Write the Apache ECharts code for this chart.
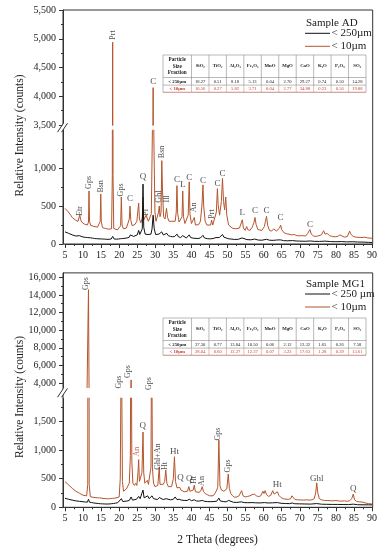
<!DOCTYPE html>
<html><head><meta charset="utf-8">
<script src="https://cdn.jsdelivr.net/npm/echarts@6/dist/echarts.min.js"></script>
<style>html,body{margin:0;padding:0;background:#fff}#c{width:388px;height:550px}</style>
</head><body><div id="c"></div>
<script>
// ---------- DATA ----------
const thetaLabels = [5,10,15,20,25,30,35,40,45,50,55,60,65,70,75,80,85,90];

// Sample AD, < 10 µm (red)
const AD_lt10 = [[5.0,470],[5.4,455],[5.8,430],[6.2,405],[6.6,380],[7.0,350],[7.4,330],[7.8,318],[8.2,305],[8.6,298],[8.9,320],[9.1,385],[9.3,330],[9.6,290],[10.0,275],[10.4,262],[10.8,255],[11.2,250],[11.5,290],[11.65,700],[11.8,300],[12.1,245],[12.5,238],[13.0,232],[13.5,228],[14.0,222],[14.5,225],[14.75,300],[14.9,660],[15.05,290],[15.4,215],[15.8,212],[16.2,205],[16.6,200],[17.0,196],[17.5,192],[17.9,200],[18.1,900],[18.2,4940],[18.3,900],[18.5,205],[19.0,190],[19.5,186],[20.0,188],[20.4,240],[20.6,620],[20.8,250],[21.2,200],[21.6,205],[22.0,210],[22.5,230],[22.8,330],[23.0,500],[23.2,320],[23.6,240],[24.0,250],[24.4,260],[24.9,300],[25.2,450],[25.4,540],[25.6,330],[26.0,280],[26.4,340],[26.6,620],[26.8,320],[27.2,300],[27.5,380],[27.8,330],[28.1,300],[28.5,310],[28.9,400],[29.2,1500],[29.4,4150],[29.6,1400],[29.9,420],[30.2,300],[30.6,290],[30.9,420],[31.1,500],[31.3,360],[31.6,420],[31.8,1100],[32.0,700],[32.3,360],[32.7,330],[33.1,470],[33.4,350],[33.8,300],[34.2,310],[34.6,300],[35.0,290],[35.5,300],[35.8,420],[36.0,770],[36.2,400],[36.6,290],[37.0,300],[37.4,360],[37.6,700],[37.8,360],[38.2,270],[38.7,280],[39.1,380],[39.4,820],[39.6,400],[40.0,270],[40.5,260],[40.8,350],[41.1,250],[41.6,245],[42.0,255],[42.5,300],[42.9,500],[43.2,780],[43.4,500],[43.8,300],[44.3,250],[44.8,240],[45.3,250],[45.6,315],[45.9,250],[46.4,260],[46.9,420],[47.2,730],[47.4,520],[47.8,380],[48.3,560],[48.6,865],[48.9,560],[49.2,450],[49.5,620],[49.8,380],[50.3,250],[50.8,230],[51.3,210],[51.8,230],[52.3,200],[52.8,195],[53.3,210],[53.8,230],[54.1,320],[54.4,210],[54.9,180],[55.3,230],[55.6,190],[56.2,180],[56.8,220],[57.3,280],[57.6,350],[57.9,260],[58.4,190],[58.9,175],[59.5,180],[60.2,230],[60.5,300],[60.8,365],[61.1,250],[61.6,180],[62.2,170],[62.8,200],[63.1,205],[63.5,170],[64.0,180],[64.4,210],[64.7,250],[65.0,190],[65.6,150],[66.3,135],[67.0,130],[67.8,120],[68.5,125],[69.2,110],[70.0,108],[70.8,110],[71.6,105],[72.2,140],[72.8,190],[73.2,130],[73.8,105],[74.5,100],[75.3,110],[76.0,120],[76.6,175],[77.0,130],[77.6,140],[78.2,110],[79.0,100],[79.8,95],[80.5,100],[81.1,120],[81.6,95],[82.4,90],[83.2,100],[83.8,170],[84.2,125],[84.8,100],[85.6,90],[86.4,88],[87.2,85],[88.0,90],[88.8,80],[89.5,78],[90.0,75]];

// Sample AD, < 250 µm (black)
const AD_lt250 = [[5.0,160],[5.5,150],[6.0,140],[6.5,128],[7.0,120],[7.5,112],[8.0,105],[8.5,100],[9.0,110],[9.4,98],[10.0,92],[10.6,88],[11.2,85],[11.6,110],[12.0,82],[12.6,78],[13.2,72],[13.8,70],[14.4,68],[14.9,85],[15.4,66],[16.0,64],[16.6,62],[17.2,62],[17.8,66],[18.2,100],[18.6,66],[19.2,64],[19.8,66],[20.4,70],[20.7,95],[21.0,72],[21.6,75],[22.2,80],[22.8,90],[23.1,120],[23.5,95],[24.0,100],[24.5,110],[25.0,120],[25.4,180],[25.7,125],[26.1,120],[26.4,200],[26.6,790],[26.8,220],[27.2,130],[27.6,150],[28.0,125],[28.4,115],[28.8,130],[29.1,200],[29.4,380],[29.7,200],[30.1,125],[30.6,110],[31.0,130],[31.3,120],[31.8,160],[32.2,120],[32.7,125],[33.2,140],[33.6,110],[34.2,100],[34.8,95],[35.4,100],[36.0,130],[36.4,95],[37.0,85],[37.6,110],[38.0,85],[38.6,80],[39.4,120],[39.8,85],[40.4,78],[41.0,75],[41.8,72],[42.5,80],[43.2,115],[43.6,80],[44.4,70],[45.2,68],[46.0,72],[46.8,85],[47.3,110],[47.7,85],[48.2,100],[48.6,125],[49.0,90],[49.6,80],[50.2,70],[51.0,65],[52.0,60],[53.0,62],[54.0,80],[54.5,60],[55.4,58],[56.5,55],[57.5,65],[58.5,52],[59.5,50],[60.8,62],[61.6,50],[62.6,48],[63.5,52],[64.6,55],[65.5,45],[66.5,42],[68.0,45],[69.0,40],[70.0,38],[71.5,36],[73.0,40],[74.0,35],[75.5,34],[77.0,38],[78.5,32],[80.0,30],[81.5,32],[83.0,28],[84.5,30],[86.0,26],[87.5,25],[89.0,22],[90.0,20]];

// Sample MG1, < 10 µm (red)
const MG1_lt10 = [[5.0,446],[5.5,420],[6.0,390],[6.5,360],[7.0,330],[7.5,305],[8.0,280],[8.5,262],[9.0,245],[9.5,228],[10.0,210],[10.5,198],[11.0,200],[11.3,400],[11.5,14600],[11.7,400],[12.0,185],[12.5,178],[13.0,172],[13.5,168],[14.0,165],[14.6,165],[15.2,158],[15.8,152],[16.4,150],[17.0,148],[17.6,152],[18.2,155],[18.8,160],[19.4,168],[20.0,180],[20.3,500],[20.6,3200],[20.9,450],[21.2,280],[21.6,300],[22.0,320],[22.4,350],[22.8,420],[23.1,900],[23.3,4350],[23.5,800],[23.8,420],[24.2,380],[24.6,420],[24.9,380],[25.2,600],[25.4,830],[25.6,450],[26.0,420],[26.3,600],[26.6,1310],[26.8,600],[27.1,420],[27.5,450],[27.8,470],[28.1,400],[28.5,420],[28.8,700],[29.0,3300],[29.2,700],[29.5,420],[29.9,360],[30.3,330],[30.7,380],[31.1,700],[31.3,400],[31.7,380],[32.2,400],[32.6,450],[32.9,650],[33.2,420],[33.6,360],[34.0,340],[34.5,360],[35.0,500],[35.3,880],[35.6,450],[36.0,340],[36.5,360],[36.8,345],[37.1,300],[37.6,290],[38.0,270],[38.5,300],[38.9,280],[39.3,360],[39.6,280],[40.1,260],[40.5,300],[40.8,385],[41.1,270],[41.6,250],[42.2,260],[42.7,300],[43.0,360],[43.3,280],[43.8,240],[44.4,220],[45.0,200],[45.5,185],[46.0,200],[46.6,250],[47.0,300],[47.3,350],[47.6,1170],[47.9,380],[48.3,300],[48.7,320],[49.0,280],[49.4,260],[49.8,320],[50.2,580],[50.5,330],[50.9,240],[51.4,200],[52.0,175],[52.6,180],[53.2,200],[53.9,290],[54.3,200],[54.9,180],[55.6,190],[56.2,200],[56.8,220],[57.4,230],[58.0,200],[58.6,185],[59.2,200],[59.8,280],[60.1,240],[60.4,290],[60.8,220],[61.4,190],[62.0,210],[62.5,290],[62.9,230],[63.4,220],[63.8,270],[64.2,210],[64.8,170],[65.5,150],[66.2,140],[66.9,140],[67.5,150],[67.8,200],[68.1,180],[68.6,140],[69.4,130],[70.2,128],[71.0,125],[71.8,130],[72.6,125],[73.4,130],[74.0,150],[74.4,250],[74.7,425],[75.0,250],[75.4,150],[76.0,130],[76.8,120],[77.6,118],[78.4,115],[79.2,112],[80.0,118],[80.8,110],[81.6,108],[82.4,112],[83.2,105],[83.8,115],[84.4,150],[84.8,230],[85.2,130],[85.8,100],[86.6,95],[87.4,90],[88.2,75],[89.0,65],[90.0,57]];

// Sample MG1, < 250 µm (black)
const MG1_lt250 = [[5.0,157],[5.5,150],[6.0,140],[6.5,132],[7.0,125],[7.5,118],[8.0,112],[8.5,108],[9.0,104],[9.5,100],[10.0,97],[10.6,92],[11.2,90],[11.5,140],[11.8,88],[12.4,82],[13.0,75],[13.6,70],[14.2,66],[14.8,62],[15.4,60],[16.0,58],[16.6,57],[17.2,58],[17.8,62],[18.4,66],[19.0,72],[19.6,80],[20.1,90],[20.6,150],[21.0,100],[21.6,105],[22.2,110],[22.8,120],[23.3,180],[23.7,125],[24.2,135],[24.8,140],[25.4,190],[25.8,150],[26.3,160],[26.6,300],[26.9,165],[27.4,160],[27.9,200],[28.3,150],[28.8,150],[29.1,200],[29.5,150],[30.0,140],[30.6,135],[31.1,170],[31.6,140],[32.2,135],[33.0,150],[33.5,130],[34.2,130],[35.0,140],[35.5,180],[36.0,135],[36.6,140],[37.2,125],[38.0,120],[38.8,118],[39.4,140],[40.0,115],[40.8,130],[41.4,110],[42.2,108],[43.0,120],[43.6,105],[44.4,100],[45.2,98],[46.0,100],[47.0,105],[47.6,160],[48.0,110],[48.8,100],[49.6,95],[50.3,120],[50.8,92],[51.6,88],[52.6,85],[53.8,95],[54.6,82],[55.6,80],[56.8,82],[57.8,78],[59.0,76],[60.2,82],[61.2,75],[62.4,78],[63.8,82],[64.8,70],[66.0,66],[67.2,64],[67.9,75],[68.6,62],[70.0,60],[71.4,58],[73.0,56],[74.7,65],[76.0,54],[77.5,52],[79.0,50],[80.5,50],[82.0,48],[83.5,47],[84.8,55],[86.0,45],[87.5,44],[89.0,43],[90.0,42]];

// peak labels: [2theta, counts, text, rotated(1/0), upper-segment(1/0)]
const AD_peaks = [[9.1,436,'Etr',1,0],[11.65,812,'Gps',1,0],[14.9,760,'Bsn',1,0],[18.2,5065,'Prt',1,1],[20.6,713,'Gps',1,0],[23.0,604,'C',0,0],[26.6,889,'Q',0,0],[27.4,416,'Pl',1,0],[29.4,4253,'C',0,1],[30.9,625,'Ghl',1,0],[31.8,1215,'Bsn',1,0],[33.1,594,'Ill',1,0],[36.0,845,'C',0,0],[37.6,789,'L',0,0],[39.4,881,'C',0,0],[40.8,482,'An',1,0],[43.2,832,'C',0,0],[45.6,396,'Prt',1,0],[47.2,802,'C',0,0],[48.6,925,'C',0,0],[54.1,419,'L',0,0],[57.6,436,'C',0,0],[60.8,436,'C',0,0],[64.7,347,'C',0,0],[72.8,260,'C',0,0]];
const MG1_peaks = [[10.85,15294,'Gps',1,1],[19.8,4114,'Gps',1,1],[22.4,5305,'Gps',1,1],[28.2,3943,'Gps',1,1],[24.9,969,'An',1,0],[26.5,1416,'Q',0,0],[30.8,882,'Ghl+An',1,0],[32.7,720,'Ht',1,0],[35.3,969,'Ht',0,0],[37.0,523,'Q',0,0],[39.4,493,'Q',0,0],[40.8,476,'Ht',1,0],[42.8,458,'An',1,0],[47.4,1277,'Gps',1,0],[50.1,720,'Gps',1,0],[63.8,389,'Ht',0,0],[74.7,505,'Ghl',0,0],[84.8,331,'Q',0,0]];

// y-axis tick values
const AD_upperTicks = [3500,4000,4500,5000,5500], AD_upperMinor = [3750,4250,4750,5250];
const AD_lowerTicks = [0,500,1000], AD_lowerMinor = [250,750,1250];
const MG1_upperTicks = [4000,6000,8000,10000,12000,14000,16000], MG1_upperMinor = [5000,7000,9000,11000,13000,15000];
const MG1_lowerTicks = [0,500,1000,1500], MG1_lowerMinor = [250,750,1250,1750];

// oxide tables
const oxides = ['SiO₂','TiO₂','Al₂O₃','Fe₂O₃','MnO','MgO','CaO','K₂O','P₂O₅','SO₃'];
const AD_ox250 = ['18.27','0.51','8.18','5.13','0.04','2.70','29.27','0.74','0.50','14.28'];
const AD_ox10  = ['10.56','0.27','5.82','3.71','0.04','2.77','34.88','0.23','0.56','19.88'];
const MG1_ox250 = ['37.30','0.77','13.84','10.50','0.06','2.12','12.32','1.65','0.26','7.58'];
const MG1_ox10  = ['28.04','0.60','12.27','12.37','0.07','3.22','17.63','1.28','0.39','13.61'];

// ---------- CHART ----------
const FONT = 'Liberation Serif';
const RED = '#b4552c', BLACK = '#111', AX = '#333', TXTRED = '#c8402a';
const GL = 65, GW = 307;
const segs = [
  {top:10, bot:125, min:3500, max:5500, ticks:AD_upperTicks, minor:AD_upperMinor, showX:false},
  {top:130.3, bot:244, min:0, max:1500, ticks:AD_lowerTicks, minor:AD_lowerMinor, showX:true},
  {top:272.9, bot:387.4, min:3500, max:16500, ticks:MG1_upperTicks, minor:MG1_upperMinor, showX:false},
  {top:398.2, bot:507.3, min:0, max:1900, ticks:MG1_lowerTicks, minor:MG1_lowerMinor, showX:true}
];
const fmt = v => Number(v).toLocaleString('en-US');
const grid = [], xAxis = [], yAxis = [], series = [];
segs.forEach((s,i) => {
  grid.push({left:GL, width:GW, top:s.top, height:s.bot - s.top, containLabel:false});
  xAxis.push({gridIndex:i, type:'value', min:5, max:90, interval:5, show:s.showX,
    axisLine:{show:true, lineStyle:{color:AX, width:1}},
    axisTick:{show:true, length:4, lineStyle:{color:AX}},
    minorTick:{show:true, splitNumber:2, length:2, lineStyle:{color:AX}},
    axisLabel:{fontFamily:FONT, fontSize:10, color:'#222', margin:6, customValues:thetaLabels},
    splitLine:{show:false}, minorSplitLine:{show:false}});
  yAxis.push({gridIndex:i, type:'value', position:'left', min:s.min, max:s.max, offset:2,
    axisLine:{show:true, lineStyle:{color:AX}},
    axisTick:{show:true, length:4, customValues:s.ticks, lineStyle:{color:AX}},
    axisLabel:{fontFamily:FONT, fontSize:10, color:'#222', margin:7, customValues:s.ticks, formatter:fmt},
    splitLine:{show:false}});
  yAxis.push({gridIndex:i, type:'value', position:'left', min:s.min, max:s.max, offset:2,
    axisLine:{show:false}, axisLabel:{show:false},
    axisTick:{show:true, length:2, customValues:s.minor, lineStyle:{color:AX}},
    splitLine:{show:false}});
});
function lineSeries(data, color, gi){
  return {type:'line', data:data, xAxisIndex:gi, yAxisIndex:gi*2, showSymbol:false, symbol:'none',
    lineStyle:{color:color, width:1}, clip:true, silent:true, sampling:null, z:color===BLACK?3:2};
}
[[AD_lt10, AD_lt250, 0],[MG1_lt10, MG1_lt250, 2]].forEach(([red, blk, g]) => {
  [g, g+1].forEach(gi => { series.push(lineSeries(red, RED, gi)); series.push(lineSeries(blk, BLACK, gi)); });
});
function labelSeries(peaks, g, upperFlag){
  const items = peaks.filter(p => p[4] === upperFlag).map(p => ({
    value:[p[0], p[1]],
    label:{formatter:p[2], rotate:p[3] ? 90 : 0, fontSize:p[3] ? 8 : 9,
      color:(p[2]==='An' && p[0]<26 && g===2) ? TXTRED : '#222'}
  }));
  return {type:'scatter', data:items, xAxisIndex:g + (upperFlag ? 0 : 1), yAxisIndex:(g + (upperFlag ? 0 : 1))*2,
    symbolSize:0, silent:true, clip:false, z:5,
    label:{show:true, position:'inside', fontFamily:FONT, align:'center', verticalAlign:'middle'}};
}
series.push(labelSeries(AD_peaks, 0, 1), labelSeries(AD_peaks, 0, 0), labelSeries(MG1_peaks, 2, 1), labelSeries(MG1_peaks, 2, 0));

// ---------- GRAPHIC: frames, breaks, legends, titles, tables ----------
const G = [];
function frame(y0, y1){
  G.push({type:'rect', shape:{x:63, y:y0, width:309.7, height:y1 - y0}, style:{fill:'none', stroke:AX, lineWidth:1}, z:10});
}
function brk(yc){
  G.push({type:'polygon', shape:{points:[[57.5,yc+4.5],[61.5,yc+4.5],[67.5,yc-4.5],[63.5,yc-4.5]]}, style:{fill:'#fff'}, z:11});
  G.push({type:'line', shape:{x1:57.5,y1:yc+4.5,x2:63.5,y2:yc-4.5}, style:{stroke:AX, lineWidth:1}, z:12});
  G.push({type:'line', shape:{x1:61.5,y1:yc+4.5,x2:67.5,y2:yc-4.5}, style:{stroke:AX, lineWidth:1}, z:12});
}
frame(10, 244); frame(272.9, 507.3);
brk(127.7); brk(392.8);
function txt(x, y, t, font, fill, align, rot){
  const e = {type:'text', x:x, y:y, z:20, style:{text:t, font:font, fill:fill||'#222', align:align||'left', verticalAlign:'middle'}};
  if (rot) e.rotation = rot;
  G.push(e);
}
function legend(y0, name, l1){
  txt(306, y0, name, '11px "Liberation Serif"', '#222');
  G.push({type:'line', shape:{x1:305, y1:y0+10, x2:330, y2:y0+10}, style:{stroke:BLACK, lineWidth:1}, z:20});
  txt(331.5, y0+10, l1, '11px "Liberation Serif"', '#222');
  G.push({type:'line', shape:{x1:305, y1:y0+23, x2:330, y2:y0+23}, style:{stroke:RED, lineWidth:1}, z:20});
  txt(331.5, y0+23, '< 10µm', '11px "Liberation Serif"', '#222');
}
legend(23.3, 'Sample AD', '< 250µm');
legend(284, 'Sample MG1', '< 250 µm');
txt(20, 135.5, 'Relative Intensity (counts)', '11.5px "Liberation Serif"', '#222', 'center', Math.PI/2);
txt(20, 397, 'Relative Intensity (counts)', '11.5px "Liberation Serif"', '#222', 'center', Math.PI/2);
txt(217.5, 540, '2 Theta (degrees)', '11.5px "Liberation Serif"', '#222', 'center');

function table(y0, r250, r10){
  const x0 = 163, c0 = 28.5, cw = 17.45, rh = [22.5, 7.6, 7.2];
  const xs = [x0, x0 + c0]; for (let k = 1; k <= 10; k++) xs.push(x0 + c0 + cw*k);
  const ys = [y0, y0 + rh[0], y0 + rh[0] + rh[1], y0 + rh[0] + rh[1] + rh[2]];
  const bc = '#8a8a8a', rc = '#e08a80';
  G.push({type:'rect', shape:{x:x0, y:y0, width:xs[11]-x0, height:ys[3]-y0}, style:{fill:'#fff', stroke:bc, lineWidth:0.6}, z:15});
  [ys[1], ys[2]].forEach(y => G.push({type:'line', shape:{x1:x0, y1:y, x2:xs[11], y2:y}, style:{stroke:bc, lineWidth:0.6}, z:16}));
  G.push({type:'line', shape:{x1:x0, y1:ys[3], x2:xs[11], y2:ys[3]}, style:{stroke:rc, lineWidth:0.6}, z:16});
  xs.slice(1, 11).forEach(x => {
    G.push({type:'line', shape:{x1:x, y1:y0, x2:x, y2:ys[2]}, style:{stroke:bc, lineWidth:0.6}, z:16});
    G.push({type:'line', shape:{x1:x, y1:ys[2], x2:x, y2:ys[3]}, style:{stroke:rc, lineWidth:0.6}, z:16});
  });
  const cy = [(ys[0]+ys[1])/2, (ys[1]+ys[2])/2, (ys[2]+ys[3])/2];
  G.push({type:'text', x:x0 + c0/2, y:cy[0], z:20, style:{text:'Particle\nSize\nFraction', font:'bold 5.2px "Liberation Serif"', fill:'#222', align:'center', verticalAlign:'middle', lineHeight:6.6}});
  txt(x0 + c0/2, cy[1], '< 250µm', 'bold 4.8px "Liberation Serif"', '#222', 'center');
  txt(x0 + c0/2, cy[2], '< 10µm', 'bold 4.8px "Liberation Serif"', TXTRED, 'center');
  oxides.forEach((o, k) => {
    const cx = (xs[k+1] + xs[k+2]) / 2;
    txt(cx, cy[0], o, 'bold 4.8px "Liberation Serif"', '#222', 'center');
    txt(cx, cy[1], r250[k], '4.6px "Liberation Serif"', '#222', 'center');
    txt(cx, cy[2], r10[k], '4.6px "Liberation Serif"', TXTRED, 'center');
  });
}
table(55, AD_ox250, AD_ox10);
table(318, MG1_ox250, MG1_ox10);

const chart = echarts.init(document.getElementById('c'), null, {renderer:'canvas'});
chart.setOption({animation:false, backgroundColor:'#fff', grid, xAxis, yAxis, series, graphic:{elements:G}});
</script></body></html>
